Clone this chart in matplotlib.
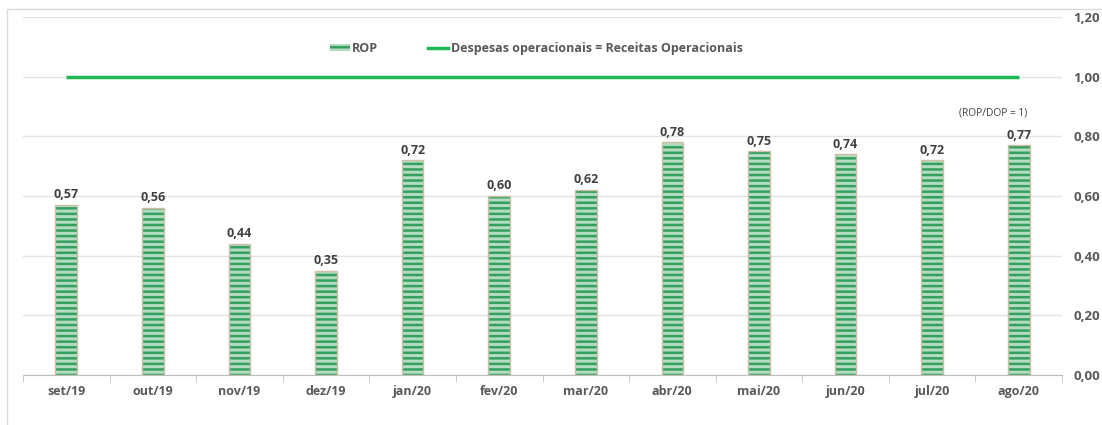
import numpy as np
import matplotlib.pyplot as plt
from matplotlib.patches import Patch, Rectangle
from matplotlib.lines import Line2D
from matplotlib.ticker import FuncFormatter, MultipleLocator

plt.rcParams['font.family'] = ['Open Sans', 'DejaVu Sans']
plt.rcParams['hatch.linewidth'] = 1.8

meses = ['set/19', 'out/19', 'nov/19', 'dez/19', 'jan/20', 'fev/20',
         'mar/20', 'abr/20', 'mai/20', 'jun/20', 'jul/20', 'ago/20']
rop = [0.57, 0.56, 0.44, 0.35, 0.72, 0.60, 0.62, 0.78, 0.75, 0.74, 0.72, 0.77]
limite = [1.0] * len(meses)

dpi = 100
fig = plt.figure(dpi=dpi, figsize=(1102 / dpi, 425 / dpi))
ax = fig.add_axes([23 / 1102, 1 - 375 / 425, 1039 / 1102, 358 / 425])

# moldura externa do grafico
fig.patches.append(Rectangle((7 / 1102, -0.1), 1.2, 1 - 9 / 425 + 0.1,
                             transform=fig.transFigure, fill=False,
                             edgecolor='#d9d9d9', linewidth=1, zorder=0))

x = np.arange(len(meses))
w = 0.25
ax.bar(x, rop, width=w, color='#b2dcc0', hatch='---',
       edgecolor='#34a060', linewidth=0, zorder=2)
ax.bar(x, rop, width=w, fill=False, edgecolor='#cdbfa6', linewidth=1, zorder=3)
ax.plot(x, limite, color='#1db954', linewidth=2.5, zorder=4, solid_capstyle='butt')

for xi, v in zip(x, rop):
    ax.text(xi, v + 0.012, f'{v:.2f}'.replace('.', ','), ha='center', va='bottom',
            fontsize=9, fontweight='bold', color='#404040')

ax.text(10.71, 0.877, '(ROP/DOP = 1)', ha='center', va='center', fontsize=7.3, color='#404040')

ax.set_xlim(-0.5, 11.5)
ax.set_ylim(0, 1.2)
ax.yaxis.set_major_locator(MultipleLocator(0.2))
ax.yaxis.tick_right()
ax.yaxis.set_major_formatter(FuncFormatter(lambda v, p: f'{v:.2f}'.replace('.', ',')))
ax.tick_params(axis='y', length=0, pad=8, labelsize=9.5, labelcolor='#595959')
for t in ax.get_yticklabels():
    t.set_fontweight('bold')

ax.set_xticks(x)
ax.set_xticklabels(meses, fontsize=9, fontweight='bold', color='#595959')
ax.set_xticks(np.arange(-0.5, 12, 1), minor=True)
ax.tick_params(axis='x', which='major', length=0, pad=7)
ax.tick_params(axis='x', which='minor', length=5, color='#bfbfbf', direction='out')

ax.grid(axis='y', color='#e3e3e3', linewidth=1, zorder=0)
for s in ['top', 'right', 'left']:
    ax.spines[s].set_visible(False)
ax.spines['bottom'].set_color('#bfbfbf')
ax.set_axisbelow(True)

handles = [Patch(facecolor='#b2dcc0', hatch='---', edgecolor='#34a060', linewidth=0),
           Line2D([0], [0], color='#1db954', linewidth=2.5)]
leg = ax.legend(handles, ['ROP', 'Despesas operacionais = Receitas Operacionais'],
                loc='center', bbox_to_anchor=(0.494, 0.913), ncol=2, frameon=False,
                prop={'size': 9, 'weight': 'bold'}, handlelength=1.6, handletextpad=0.2,
                columnspacing=4.0, handleheight=0.5)
for t in leg.get_texts():
    t.set_color('#595959')

fig.savefig('out.png', dpi=dpi)
